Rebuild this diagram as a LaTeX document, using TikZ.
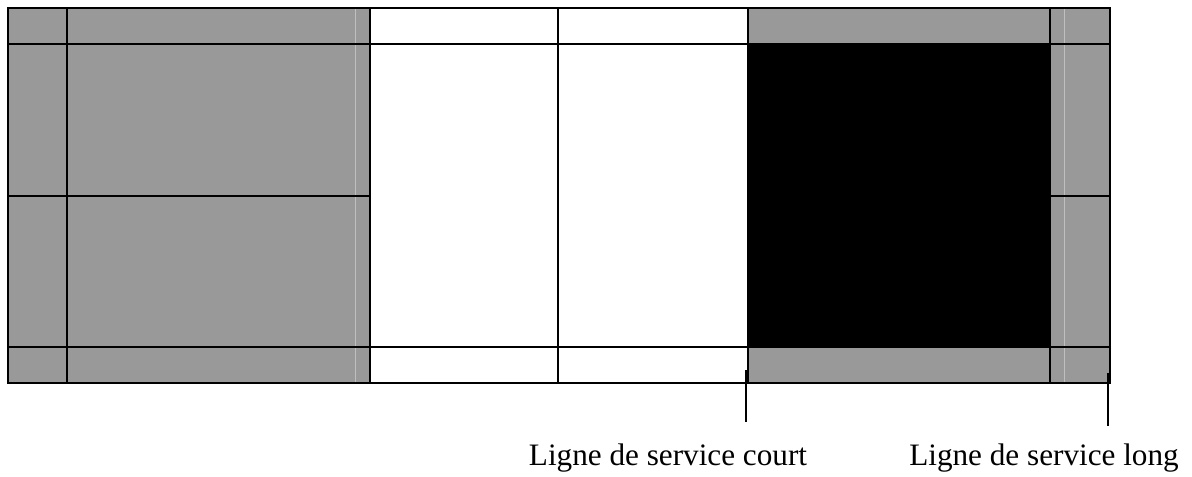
\documentclass[tikz,border=0pt]{standalone}
\usepackage{fontspec}
\setmainfont{Liberation Serif}
\usetikzlibrary{positioning}

\begin{document}
\begin{tikzpicture}[x=0.5pt,y=-0.5pt,
        courtline/.style={line width=1.1pt},
        seam/.style={line width=0.4pt,draw=black!25},
        tick/.style={line width=0.8pt},
        service/.style={anchor=base,inner sep=0pt,font=\fontsize{15.6}{18}\selectfont}]
            \useasboundingbox (0,0) rectangle (1192,476);

            % zones
            \fill [black!40] (8,8) rectangle (370,383);
            \fill [black!40] (748,8) rectangle (1110,383);
            \fill [black] (748,44) rectangle (1050,347);
            \draw [seam] (355,8) -- (355,383);
            \draw [seam] (1064,8) -- (1064,383);

            % lines of the court
            \draw [courtline] (8,8) rectangle (1110,383);
            \foreach \x in {67,370,558,748,1050}
                \draw [courtline] (\x,8) -- (\x,383);
            \draw [courtline] (8,44) -- (1110,44);
            \draw [courtline] (8,347) -- (1110,347);
            \draw [courtline] (8,196) -- (370,196);
            \draw [courtline] (1050,196) -- (1110,196);

            % service lines
            \node [service] (court) at (668,465) {Ligne de service court};
            \node [service] (long) at (1044,465) {Ligne de service long};
            \coordinate (courttop) at (746,370);
            \coordinate (courtend) at (746,422);
            \coordinate (longtop) at (1108,373);
            \coordinate (longend) at (1108,426);
            \draw [tick] (courttop) -- (courtend);
            \draw [tick] (longtop) -- (longend);
        \end{tikzpicture}
\end{document}
